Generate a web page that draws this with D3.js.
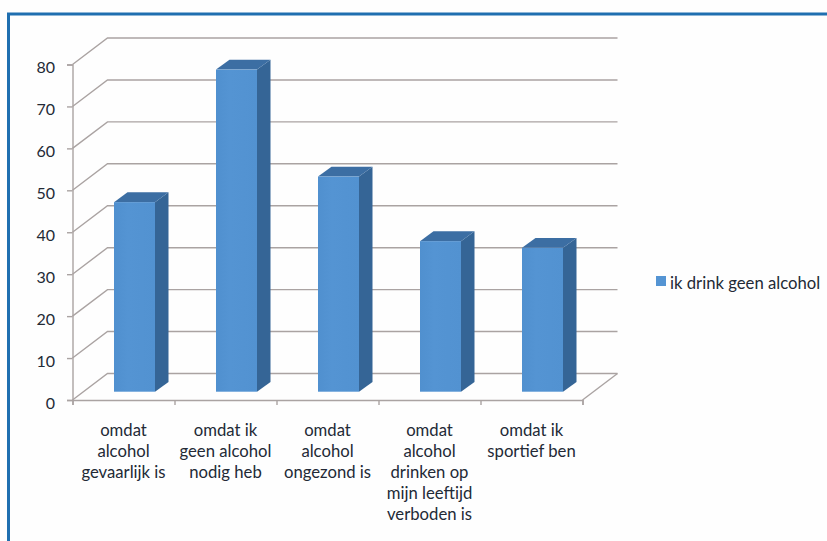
<!DOCTYPE html>
<html>
<head>
<meta charset="utf-8">
<script src="https://cdn.jsdelivr.net/npm/d3@7"></script>
<style>
html, body { margin: 0; padding: 0; background: #fefefe; }
svg { display: block; }
text { font-family: Lato, "Open Sans", sans-serif; fill: #232a36; }
</style>
</head>
<body>
<div id="chart"></div>
<script>
var categories = [
	["omdat", "alcohol", "gevaarlijk is"],
	["omdat ik", "geen alcohol", "nodig heb"],
	["omdat", "alcohol", "ongezond is"],
	["omdat", "alcohol", "drinken op", "mijn leeftijd", "verboden is"],
	["omdat ik", "sportief ben"]
];
var values = [45.2, 76.8, 51.3, 35.9, 34.3];
var tickValues = [0, 10, 20, 30, 40, 50, 60, 70, 80];
var seriesName = "ik drink geen alcohol";

var svgWidth = 827;
var svgHeight = 541;

var svg = d3.select("#chart")
	.append("svg")
	.attr("width", svgWidth)
	.attr("height", svgHeight);

// the frame round the picture
svg.append("path")
	.attr("d", "M8.5,541V14H827")
	.attr("fill", "none")
	.attr("stroke", "#1f6fb0")
	.attr("stroke-width", 3);

var xScale = d3.scaleBand()
	.domain(d3.range(categories.length))
	.range([72.5, 582.5]);

var yScale = d3.scaleLinear()
	.domain([0, 80])
	.range([400, 64.5]);

// how far the back wall and the bars are pushed in
var wallDx = 35;
var wallDy = -26.5;
var barInset = 41.5;
var barWidth = 41;
var barRise = 8.3;
var barDx = 13.5;
var barDy = -9.8;
var gridColor = "#aaa3a2";

var grid = svg.append("g")
	.attr("fill", "none")
	.attr("stroke", gridColor)
	.attr("stroke-width", 1.4);

tickValues.forEach(function(t) {
	var y = yScale(t);
	grid.append("path")
		.attr("d", "M72.5," + y + "l" + wallDx + "," + wallDy + "H" + (582.5 + wallDx));
});
// right edge of the floor
grid.append("path")
	.attr("d", "M582.5,400l" + wallDx + "," + wallDy);

// side, top, then front of every bar
var bars = svg.selectAll(".bar")
	.data(values)
	.enter().append("g")
	.attr("class", "bar");

function frontLeft(i) { return xScale(i) + barInset; }

var defs = svg.append("defs");
var grad = defs.append("linearGradient").attr("id", "barFace");
grad.append("stop").attr("offset", "0%").attr("stop-color", "#5090cf");
grad.append("stop").attr("offset", "35%").attr("stop-color", "#5494d3");
grad.append("stop").attr("offset", "100%").attr("stop-color", "#5292d1");

bars.append("path")
	.attr("fill", "#356596")
	.attr("d", function(d, i) {
		var x = frontLeft(i) + barWidth, top = yScale(d) - barRise, bottom = 400 - barRise;
		return "M" + x + "," + top + "l" + barDx + "," + barDy + "V" + (bottom + barDy) + "l" + (-barDx) + "," + (-barDy) + "Z";
	});

bars.append("path")
	.attr("fill", "#3c6ea3")
	.attr("d", function(d, i) {
		var x = frontLeft(i), top = yScale(d) - barRise;
		return "M" + x + "," + top + "l" + barDx + "," + barDy + "h" + barWidth + "l" + (-barDx) + "," + (-barDy) + "Z";
	});

bars.append("rect")
	.attr("fill", "url(#barFace)")
	.attr("x", function(d, i) { return frontLeft(i); })
	.attr("y", function(d) { return yScale(d) - barRise; })
	.attr("width", barWidth)
	.attr("height", function(d) { return 400 - yScale(d); });

// axes
var leftAxis = d3.axisLeft(yScale).tickValues(tickValues).tickSize(5.5).tickPadding(12);
var yAxis = svg.append("g")
	.attr("transform", "translate(72.5,0)")
	.call(leftAxis);
yAxis.selectAll("path, line").attr("stroke", gridColor).attr("stroke-width", 1.4);
yAxis.selectAll("text").attr("font-size", 16).attr("dy", "0.5em");

var bottomAxis = d3.axisBottom(d3.scaleLinear().domain([0, categories.length]).range([72.5, 582.5]))
	.ticks(categories.length)
	.tickSize(5)
	.tickSizeOuter(5)
	.tickFormat("");
var xAxis = svg.append("g")
	.attr("transform", "translate(0,400)")
	.call(bottomAxis);
xAxis.selectAll("path, line").attr("stroke", gridColor).attr("stroke-width", 1.4);

// category labels
var labels = svg.selectAll(".cat")
	.data(categories)
	.enter().append("text")
	.attr("class", "cat")
	.attr("text-anchor", "middle")
	.attr("font-size", 16.7);

labels.selectAll("tspan")
	.data(function(d, i) { return d.map(function(line) { return {line: line, i: i}; }); })
	.enter().append("tspan")
	.attr("x", function(d) { return xScale(d.i) + xScale.bandwidth() / 2; })
	.attr("y", function(d, j) { return 435.5 + j * 21.2; })
	.text(function(d) { return d.line; });

// legend
svg.append("rect")
	.attr("x", 656)
	.attr("y", 276)
	.attr("width", 10)
	.attr("height", 10)
	.attr("fill", "#5494d3");
svg.append("text")
	.attr("x", 670)
	.attr("y", 288.5)
	.attr("font-size", 16.7)
	.text(seriesName);
</script>
</body>
</html>
